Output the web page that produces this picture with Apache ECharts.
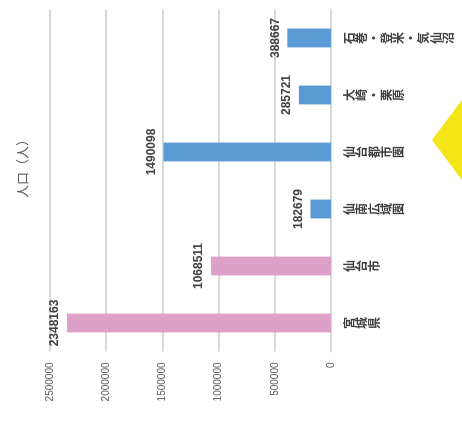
<!DOCTYPE html>
<html>
<head>
<meta charset="utf-8">
<script src="https://cdn.jsdelivr.net/npm/echarts@6/dist/echarts.min.js"></script>
<style>
  html, body { margin: 0; padding: 0; width: 462px; height: 428px; overflow: hidden; background: #fff; }
  /* the column chart is laid out upright, then turned a quarter turn counter-clockwise */
  #chart {
    position: absolute; left: 0; top: 0;
    width: 428px; height: 462px;
    transform-origin: 0 0;
    transform: translateY(428px) rotate(-90deg);
  }
</style>
</head>
<body>
<div id="chart"></div>
<script>
// Population by area (persons)
const categories = ['宮城県', '仙台市', '仙南広域圏', '仙台都市圏', '大崎・栗原', '石巻・登米・気仙沼'];
const population = [2348163, 1068511, 182679, 1490098, 285721, 388667];
const barColors = ['#dda0c9', '#dda0c9', '#5b9bd5', '#5b9bd5', '#5b9bd5', '#5b9bd5'];
const valueTicks = [0, 500000, 1000000, 1500000, 2000000, 2500000];
const axisTitle = '人口（人）';

const chart = echarts.init(document.getElementById('chart'), null, { renderer: 'canvas' });

chart.setOption({
  backgroundColor: '#ffffff',
  animation: false,
  textStyle: { fontFamily: '"Noto Sans CJK JP", "Liberation Sans", sans-serif' },
  grid: { left: 76.5, right: 9.5, top: 50, bottom: 131, containLabel: false },
  graphic: [
    {
      type: 'text',
      left: 230, top: 16,
      style: {
        text: axisTitle,
        fill: '#595959',
        font: '13px "Noto Sans CJK JP", sans-serif'
      }
    },
    {
      type: 'polygon',
      shape: { points: [[328, 462], [288, 432], [248, 462]] },
      style: { fill: '#f4e616' }
    }
  ],
  xAxis: {
    type: 'category',
    data: categories,
    axisLine: { show: true, lineStyle: { color: '#d9d9d9', width: 2 } },
    axisTick: { show: false },
    axisLabel: {
      interval: 0,
      margin: 12,
      color: '#404040',
      fontWeight: 'bold',
      fontSize: 12,
      lineHeight: 12.4,
      fontFamily: '"Noto Sans CJK JP", sans-serif',
      // stack the characters into vertical writing
      formatter: v => Array.from(v).join('\n')
    }
  },
  yAxis: {
    type: 'value',
    min: 0,
    max: valueTicks[valueTicks.length - 1],
    interval: valueTicks[1] - valueTicks[0],
    axisLine: { show: false },
    axisTick: { show: false },
    splitLine: { lineStyle: { color: '#d9d9d9', width: 2 } },
    axisLabel: {
      margin: 11,
      color: '#595959',
      fontSize: 10,
      fontFamily: '"Liberation Sans", Arial, sans-serif',
      formatter: v => String(v)
    }
  },
  series: [{
    type: 'bar',
    barWidth: '33%',
    data: population.map((v, i) => ({ value: v, itemStyle: { color: barColors[i] } })),
    label: {
      show: true,
      position: 'top',
      distance: 6,
      color: '#404040',
      fontWeight: 'bold',
      fontSize: 12,
      fontFamily: '"Liberation Sans", Arial, sans-serif',
      formatter: p => String(p.value)
    }
  }]
});
</script>
</body>
</html>
